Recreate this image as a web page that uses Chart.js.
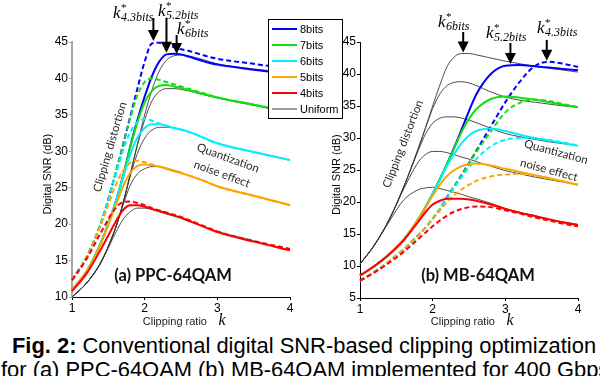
<!DOCTYPE html>
<html lang="en">
<head>
<meta charset="UTF-8" />
<title>Digital SNR vs clipping ratio</title>
<script src="https://cdn.jsdelivr.net/npm/chart.js"></script>
<style>
  body {
    margin: 0;
    background: #fff;
    width: 600px;
    height: 376px;
    overflow: hidden;
    position: relative;
    font-family: "Liberation Sans", Arial, sans-serif;
  }
  canvas { position: absolute; top: 0; }
  #chartA { left: 0; }
  #chartB { left: 300px; }
  .caption {
    position: absolute;
    white-space: nowrap;
    font-size: 21.9px;
    line-height: 24px;
    color: #000;
  }
</style>
</head>
<body>
<canvas id="chartA" width="350" height="330"></canvas>
<canvas id="chartB" width="300" height="330"></canvas>
<div class="caption" style="left:12px; top:334px;"><b>Fig. 2:</b> Conventional digital SNR-based clipping optimization</div>
<div class="caption" style="left:1px; top:358px;">for (a) PPC-64QAM (b) MB-64QAM implemented for 400 Gbps</div>

<script>
  // ---- data ----
  const BIT_LABELS = ['8bits', '7bits', '6bits', '5bits', '4bits'];
  const BIT_COLORS = ['#0000ff', '#10e010', '#00f0ff', '#ffa500', '#ff0000'];
  const UNIFORM_COLOR = '#3a3a3a';

  // (a) PPC-64QAM
  const KA = [1, 1.2, 1.4, 1.6, 1.7, 1.8, 1.9, 2.0, 2.1, 2.2, 2.3, 2.4, 2.5, 2.6, 2.8, 3.0, 3.5, 4.0];
  const a8s = [11.0, 13.5, 17.5, 23.0, 26.5, 30.6, 34.3, 37.5, 40.3, 42.3, 43.3, 43.4, 43.3, 43.0, 42.4, 41.9, 41.2, 40.6];
  const a8d = [12.3, 15.5, 20.2, 27.0, 30.8, 34.7, 38.6, 42.3, 44.8, 44.9, 44.6, 44.3, 44.0, 43.8, 43.2, 42.7, 42.0, 41.3];
  const a8u = [10.0, 11.9, 14.8, 19.5, 22.8, 26.8, 31.0, 35.0, 38.4, 41.0, 42.5, 43.1, 43.2, 43.1, 42.6, 42.0, 41.3, 40.8];
  const a7s = [11.0, 13.5, 17.5, 23.0, 26.5, 30.5, 34.0, 36.7, 38.3, 39.0, 39.1, 38.9, 38.7, 38.4, 37.9, 37.4, 36.4, 35.4];
  const a7d = [12.4, 15.5, 20.2, 27.0, 30.8, 34.5, 37.7, 39.5, 40.0, 39.8, 39.5, 39.2, 38.9, 38.6, 38.0, 37.4, 36.4, 35.4];
  const a7u = [10.0, 11.9, 14.8, 19.5, 22.8, 26.8, 30.8, 34.3, 36.9, 38.2, 38.6, 38.6, 38.5, 38.3, 37.8, 37.3, 36.3, 35.3];
  const a6s = [11.0, 13.5, 17.5, 23.0, 26.3, 29.5, 31.9, 33.2, 33.7, 33.7, 33.5, 33.2, 33.0, 32.7, 31.9, 31.1, 29.9, 28.8];
  const a6d = [12.4, 15.5, 20.2, 26.8, 30.0, 32.6, 34.0, 34.4, 34.2, 33.8, 33.5, 33.2, 33.0, 32.7, 31.9, 31.1, 29.9, 28.8];
  const a6u = [10.0, 11.9, 14.8, 19.5, 22.8, 26.5, 29.7, 31.8, 32.9, 33.3, 33.3, 33.2, 33.0, 32.7, 31.9, 31.1, 29.9, 28.8];
  const a5s = [11.0, 13.5, 17.4, 22.5, 25.1, 27.0, 28.0, 28.2, 28.1, 27.9, 27.6, 27.3, 27.0, 26.7, 26.0, 25.2, 23.9, 22.6];
  const a5d = [12.3, 15.5, 20.0, 25.3, 27.3, 28.4, 28.7, 28.5, 28.2, 27.9, 27.6, 27.3, 27.0, 26.7, 26.0, 25.2, 23.9, 22.6];
  const a5u = [10.0, 11.9, 14.8, 19.5, 22.5, 25.3, 26.9, 27.6, 27.9, 27.9, 27.7, 27.4, 27.1, 26.7, 26.0, 25.2, 23.9, 22.6];
  const a4s = [10.8, 13.2, 16.6, 20.3, 21.9, 22.6, 22.6, 22.4, 22.1, 21.8, 21.5, 21.2, 20.9, 20.5, 19.7, 18.9, 17.6, 16.4];
  const a4d = [12.3, 15.2, 18.9, 22.2, 23.0, 23.1, 22.9, 22.6, 22.2, 21.9, 21.6, 21.3, 21.0, 20.6, 19.8, 19.0, 17.7, 16.6];
  const a4u = [10.0, 11.9, 14.8, 18.8, 20.6, 21.7, 22.2, 22.2, 22.0, 21.7, 21.4, 21.1, 20.8, 20.4, 19.7, 19.0, 17.7, 16.4];

  // (b) MB-64QAM
  const KB = [1, 1.2, 1.4, 1.6, 1.8, 1.9, 2.0, 2.1, 2.2, 2.3, 2.4, 2.5, 2.6, 2.8, 3.0, 3.2, 3.4, 3.6, 3.8, 4.0];
  const b8s = [8.5, 10.0, 11.8, 14.1, 17.3, 19.2, 21.3, 23.6, 26.0, 28.6, 31.4, 34.2, 36.8, 40.0, 41.3, 41.4, 41.2, 41.0, 40.8, 40.6];
  const b8d = [7.7, 9.1, 10.7, 12.6, 14.8, 16.0, 17.4, 18.9, 20.8, 22.5, 24.3, 26.1, 28.0, 31.8, 35.6, 38.8, 41.2, 41.9, 41.6, 41.1];
  const b8u = [10.3, 13.3, 17.2, 22.3, 28.3, 31.6, 35.0, 38.3, 41.2, 42.7, 43.2, 43.2, 43.0, 42.5, 42.0, 41.6, 41.2, 40.9, 40.6, 40.3];
  const b7s = [8.5, 10.0, 11.8, 14.1, 17.3, 19.2, 21.3, 23.6, 26.0, 28.5, 31.0, 33.0, 34.5, 36.1, 36.5, 36.3, 36.0, 35.6, 35.2, 34.8];
  const b7d = [7.7, 9.1, 10.7, 12.6, 14.8, 16.0, 17.4, 18.9, 20.7, 22.5, 24.2, 26.0, 27.8, 31.0, 34.0, 35.5, 36.0, 35.8, 35.3, 34.8];
  const b7u = [10.3, 13.3, 17.2, 22.3, 28.3, 31.5, 34.6, 36.9, 38.2, 38.7, 38.8, 38.6, 38.2, 37.2, 36.4, 35.9, 35.6, 35.3, 35.0, 34.8];
  const b6s = [8.5, 10.0, 11.8, 14.1, 17.3, 19.2, 21.3, 23.5, 25.7, 27.6, 29.2, 30.4, 31.1, 31.5, 31.1, 30.5, 30.0, 29.6, 29.2, 28.8];
  const b6d = [7.7, 9.1, 10.7, 12.6, 14.8, 16.0, 17.4, 18.9, 20.6, 22.3, 23.9, 25.4, 26.7, 28.7, 29.7, 30.0, 30.0, 29.7, 29.3, 28.8];
  const b6u = [10.3, 13.3, 17.2, 22.3, 28.0, 30.6, 32.3, 33.1, 33.3, 33.3, 33.1, 32.8, 32.4, 31.5, 30.7, 30.2, 29.8, 29.4, 29.1, 28.8];
  const b5s = [8.5, 10.0, 11.8, 14.1, 17.3, 19.1, 21.0, 22.7, 24.1, 25.0, 25.6, 25.9, 26.0, 25.7, 25.2, 24.7, 24.2, 23.7, 23.2, 22.7];
  const b5d = [7.7, 9.1, 10.7, 12.6, 14.8, 16.0, 17.3, 18.7, 20.0, 21.1, 22.0, 22.7, 23.3, 24.0, 24.3, 24.4, 24.2, 23.7, 23.2, 22.7];
  const b5u = [10.3, 13.3, 17.2, 22.0, 26.2, 27.4, 27.9, 27.9, 27.7, 27.4, 27.0, 26.7, 26.3, 25.6, 24.9, 24.4, 23.9, 23.5, 23.1, 22.7];
  const b4s = [8.5, 10.0, 11.8, 14.0, 16.9, 18.4, 19.6, 20.2, 20.5, 20.5, 20.5, 20.4, 20.2, 19.6, 18.9, 18.3, 17.8, 17.3, 16.8, 16.4];
  const b4d = [7.7, 9.0, 10.5, 12.2, 14.2, 15.2, 16.2, 17.1, 17.9, 18.5, 18.9, 19.2, 19.3, 19.2, 18.7, 18.2, 17.6, 17.1, 16.6, 16.2];
  const b4u = [10.3, 13.3, 16.9, 20.3, 21.9, 22.2, 22.3, 22.1, 21.8, 21.5, 21.2, 20.8, 20.5, 19.8, 19.0, 18.4, 17.9, 17.3, 16.9, 16.5];

  // optimum clipping ratios marked with arrows (k, dB at the peak)
  const A_KSTAR_LABELS = ['4.3bits', '5.2bits', '6bits'];
  const A_KSTAR_K = [2.12, 2.30, 2.44];
  const A_KSTAR_DB = [45.0, 43.4, 43.2];
  const B_KSTAR_LABELS = ['6bits', '5.2bits', '4.3bits'];
  const B_KSTAR_K = [2.42, 3.07, 3.57];
  const B_KSTAR_DB = [43.2, 41.4, 41.9];

  const TICK_FONT = { family: '"Liberation Sans", Arial, sans-serif', size: 12 };
  const TITLE_FONT = { family: '"Liberation Sans", Arial, sans-serif', size: 11 };

  // first dataset is drawn on top, so the thin uniform curves go last
  function buildDatasets(K, solid, dashed, uniform) {
    const pts = ys => ys.map((y, i) => ({ x: K[i], y: y }));
    const sets = [];
    for (let b = solid.length - 1; b >= 0; b--) {
      sets.push({ label: BIT_LABELS[b], data: pts(solid[b]), borderColor: BIT_COLORS[b], borderWidth: 2 });
      sets.push({ label: BIT_LABELS[b] + ' (dashed)', data: pts(dashed[b]), borderColor: BIT_COLORS[b], borderWidth: 2, borderDash: [5, 3] });
    }
    uniform.forEach(ys => sets.push({ label: 'Uniform', data: pts(ys), borderColor: UNIFORM_COLOR, borderWidth: 0.9 }));
    sets.forEach(s => {
      s.pointRadius = 0;
      s.fill = false;
      s.cubicInterpolationMode = 'monotone';
      s.clip = 4;
    });
    return sets;
  }

  function buildOptions(cfg) {
    return {
      responsive: false,
      animation: false,
      events: [],
      layout: { padding: { top: 42, right: cfg.padRight, left: 0, bottom: 0 } },
      plugins: { legend: { display: false }, tooltip: { enabled: false } },
      scales: {
        x: {
          type: 'linear', min: 1, max: 4,
          afterFit: s => { s.height = cfg.xHeight; },
          ticks: { stepSize: 1, padding: 1, color: '#000', font: TICK_FONT },
          grid: { drawOnChartArea: false, drawTicks: true, tickLength: 3, color: '#000' },
          border: { color: '#000', width: 1 },
          title: { display: true, text: 'Clipping ratio    ', color: '#222', font: TITLE_FONT, padding: { top: 0, bottom: 1 } }
        },
        y: {
          type: 'linear', min: cfg.yMin, max: 45,
          afterFit: s => { s.width = cfg.yWidth; },
          ticks: { stepSize: 5, padding: 1, color: '#000', font: TICK_FONT },
          grid: { drawOnChartArea: false, drawTicks: true, tickLength: 3, color: cfg.yBorder },
          border: { color: cfg.yBorder, width: cfg.yBorderWidth },
          title: { display: true, text: 'Digital SNR (dB)   ', color: '#000', font: TITLE_FONT, padding: { top: cfg.yTitlePad, bottom: 0 } }
        }
      }
    };
  }

  // ---- drawing helpers for the annotations ----
  function rotText(ctx, text, x, y, deg, font, color) {
    ctx.save();
    ctx.translate(x, y);
    ctx.rotate(deg * Math.PI / 180);
    ctx.font = font;
    ctx.fillStyle = color;
    ctx.textAlign = 'center';
    ctx.textBaseline = 'middle';
    ctx.fillText(text, 0, 0);
    ctx.restore();
  }

  function kStar(ctx, x, y, sub) {
    ctx.save();
    ctx.fillStyle = '#000';
    ctx.textAlign = 'left';
    ctx.textBaseline = 'alphabetic';
    ctx.font = 'italic 17px "Liberation Serif", serif';
    ctx.fillText('k', x, y);
    const w = ctx.measureText('k').width;
    ctx.font = '11px "Liberation Serif", serif';
    ctx.fillText('*', x + w + 0.5, y - 7);
    ctx.font = 'italic 12px "Liberation Serif", serif';
    ctx.fillText(sub, x + w + 0.5, y + 3);
    ctx.restore();
  }

  function arrow(ctx, x, yTop, yTip) {
    ctx.save();
    ctx.strokeStyle = '#000';
    ctx.fillStyle = '#000';
    ctx.lineWidth = 2;
    ctx.beginPath();
    ctx.moveTo(x, yTop);
    ctx.lineTo(x, yTip - 9);
    ctx.stroke();
    ctx.beginPath();
    ctx.moveTo(x - 5.5, yTip - 11);
    ctx.lineTo(x + 5.5, yTip - 11);
    ctx.lineTo(x, yTip);
    ctx.closePath();
    ctx.fill();
    ctx.restore();
  }

  function axisK(ctx, x, y) {
    ctx.save();
    ctx.font = 'italic 16px "Liberation Serif", serif';
    ctx.fillStyle = '#000';
    ctx.textAlign = 'center';
    ctx.textBaseline = 'middle';
    ctx.fillText('k', x, y);
    ctx.restore();
  }

  const NOTE_FONT = '11.5px Lato, sans-serif';
  const NOTE_COLOR = '#2a2a2a';
  const PANEL_FONT = 'bold 16.5px Lato, sans-serif';

  const notesA = {
    id: 'notesA',
    afterDraw(chart) {
      const ctx = chart.ctx, xs = chart.scales.x, ys = chart.scales.y;
      rotText(ctx, '(a) PPC-64QAM', 173, 276, 0, PANEL_FONT, '#111');
      rotText(ctx, 'Clipping distortion', 110, 147, -73.6, NOTE_FONT, NOTE_COLOR);
      rotText(ctx, 'Quantization', 228, 158, 20, NOTE_FONT, NOTE_COLOR);
      rotText(ctx, 'noise effect', 222, 174, 20, NOTE_FONT, NOTE_COLOR);
      axisK(ctx, 222, 321);
      const tops = [18, 18, 35];
      const labelPos = [[113, 18], [158, 16], [177, 34]];
      A_KSTAR_K.forEach((k, i) => {
        arrow(ctx, xs.getPixelForValue(k), tops[i], ys.getPixelForValue(A_KSTAR_DB[i]) - 1);
        kStar(ctx, labelPos[i][0], labelPos[i][1], A_KSTAR_LABELS[i]);
      });
      // legend box
      ctx.save();
      ctx.fillStyle = '#fff';
      ctx.fillRect(268, 19, 74, 99);
      ctx.strokeStyle = '#000';
      ctx.lineWidth = 1;
      ctx.strokeRect(268.5, 19.5, 74, 99);
      const labels = BIT_LABELS.concat(['Uniform']);
      const colors = BIT_COLORS.concat([UNIFORM_COLOR]);
      ctx.font = '11px "Liberation Sans", Arial, sans-serif';
      ctx.textBaseline = 'middle';
      ctx.textAlign = 'left';
      labels.forEach((lab, i) => {
        const y = 29 + i * 16;
        ctx.strokeStyle = colors[i];
        ctx.lineWidth = i < 5 ? 2 : 1;
        ctx.beginPath();
        ctx.moveTo(272, y);
        ctx.lineTo(297, y);
        ctx.stroke();
        ctx.fillStyle = '#000';
        ctx.fillText(lab, 300, y + 0.5);
      });
      ctx.restore();
    }
  };

  const notesB = {
    id: 'notesB',
    afterDraw(chart) {
      const ctx = chart.ctx, xs = chart.scales.x, ys = chart.scales.y;
      rotText(ctx, '(b) MB-64QAM', 178, 276, 0, PANEL_FONT, '#111');
      rotText(ctx, 'Clipping distortion', 103, 144, -68.7, NOTE_FONT, NOTE_COLOR);
      rotText(ctx, 'Quantization', 256, 152, 15, NOTE_FONT, NOTE_COLOR);
      rotText(ctx, 'noise effect', 249, 170, 15, NOTE_FONT, NOTE_COLOR);
      axisK(ctx, 210, 321);
      const tops = [32, 43, 40];
      const labelPos = [[138, 27], [186, 38], [237, 33]];
      B_KSTAR_K.forEach((k, i) => {
        arrow(ctx, xs.getPixelForValue(k), tops[i], ys.getPixelForValue(B_KSTAR_DB[i]) - 1);
        kStar(ctx, labelPos[i][0], labelPos[i][1], B_KSTAR_LABELS[i]);
      });
    }
  };

  new Chart(document.getElementById('chartA'), {
    type: 'line',
    data: {
      datasets: buildDatasets(KA,
        [a8s, a7s, a6s, a5s, a4s],
        [a8d, a7d, a6d, a5d, a4d],
        [a8u, a7u, a6u, a5u, a4u])
    },
    options: buildOptions({ padRight: 60, xHeight: 33, yWidth: 72, yMin: 10, yBorder: '#a8a8a8', yBorderWidth: 2, yTitlePad: 41 }),
    plugins: [notesA]
  });

  new Chart(document.getElementById('chartB'), {
    type: 'line',
    data: {
      datasets: buildDatasets(KB,
        [b8s, b7s, b6s, b5s, b4s],
        [b8d, b7d, b6d, b5d, b4d],
        [b8u, b7u, b6u, b5u, b4u])
    },
    options: buildOptions({ padRight: 22, xHeight: 32, yWidth: 60, yMin: 5, yBorder: '#000', yBorderWidth: 1, yTitlePad: 30 }),
    plugins: [notesB]
  });
</script>
</body>
</html>
